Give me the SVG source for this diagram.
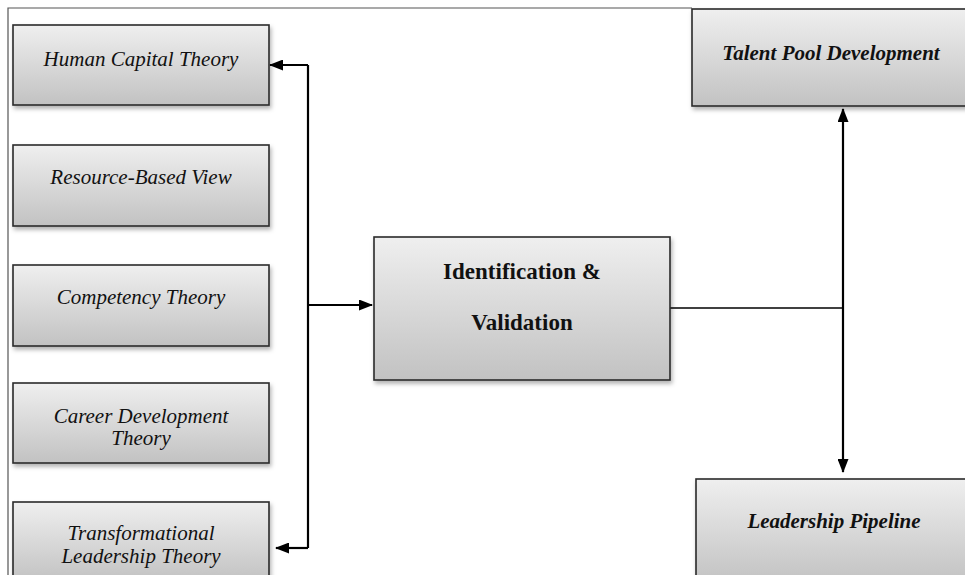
<svg xmlns="http://www.w3.org/2000/svg" width="965" height="575" viewBox="0 0 965 575">
<defs>
<linearGradient id="g" x1="0" y1="0" x2="0" y2="1">
<stop offset="0" stop-color="#efefef"/>
<stop offset="1" stop-color="#c2c2c2"/>
</linearGradient>
<filter id="sh" x="-5%" y="-5%" width="115%" height="125%">
<feDropShadow dx="1.5" dy="3" stdDeviation="2" flood-color="#000" flood-opacity="0.3"/>
</filter>
<marker id="ah" markerWidth="14" markerHeight="11" refX="13" refY="5.5" orient="auto-start-reverse" markerUnits="userSpaceOnUse">
<path d="M0,0 L14,5.5 L0,11 Z" fill="#000"/>
</marker>
<style>
.box{fill:url(#g);stroke:#2a2a2a;stroke-width:1.6;filter:url(#sh)}
.it{font-family:"Liberation Serif","Times New Roman",serif;font-style:italic;font-size:21px;fill:#111;text-anchor:middle}
.bd{font-family:"Liberation Serif","Times New Roman",serif;font-weight:bold;font-size:23px;fill:#111;text-anchor:middle}
.bi{font-family:"Liberation Serif","Times New Roman",serif;font-weight:bold;font-style:italic;font-size:21px;fill:#111;text-anchor:middle}
.ln{fill:none;stroke:#000;stroke-width:2.2}
.frame{fill:none;stroke:#555;stroke-width:1.2}
</style>
</defs>
<rect width="965" height="575" fill="#fff"/>
<path class="frame" d="M8,575 L8,8 L692,8"/>

<g id="connectors">
<path class="ln" d="M308,65 L308,548"/>
<path class="ln" d="M308,65 L270,65" marker-end="url(#ah)"/>
<path class="ln" d="M308,548 L276,548" marker-end="url(#ah)"/>
<path class="ln" d="M308,305 L372,305" marker-end="url(#ah)"/>
<path class="ln" d="M670,308 L843,308" style="stroke-width:1.5"/>
<path class="ln" d="M843,109 L843,472" marker-start="url(#ah)" marker-end="url(#ah)"/>
</g>

<g id="human-capital">
<rect class="box" x="13" y="25" width="256" height="80"/>
<text class="it" x="141" y="66">Human Capital Theory</text>
</g>
<g id="resource-based">
<rect class="box" x="13" y="145" width="256" height="81"/>
<text class="it" x="141" y="184">Resource-Based View</text>
</g>
<g id="competency">
<rect class="box" x="13" y="265" width="256" height="81"/>
<text class="it" x="141" y="304">Competency Theory</text>
</g>
<g id="career">
<rect class="box" x="13" y="383" width="256" height="80"/>
<text class="it" x="141" y="423">Career Development</text>
<text class="it" x="141" y="445">Theory</text>
</g>
<g id="transformational">
<rect class="box" x="13" y="502" width="256" height="80"/>
<text class="it" x="141" y="540">Transformational</text>
<text class="it" x="141" y="563">Leadership Theory</text>
</g>
<g id="identification">
<rect class="box" x="374" y="237" width="296" height="143"/>
<text class="bd" x="522" y="279">Identification &amp;</text>
<text class="bd" x="522" y="330">Validation</text>
</g>
<g id="talent-pool">
<rect class="box" x="692" y="9" width="280" height="97"/>
<text class="bi" x="831" y="60">Talent Pool Development</text>
</g>
<g id="leadership-pipeline">
<rect class="box" x="696" y="479" width="276" height="105"/>
<text class="bi" x="834" y="528">Leadership Pipeline</text>
</g>
</svg>
